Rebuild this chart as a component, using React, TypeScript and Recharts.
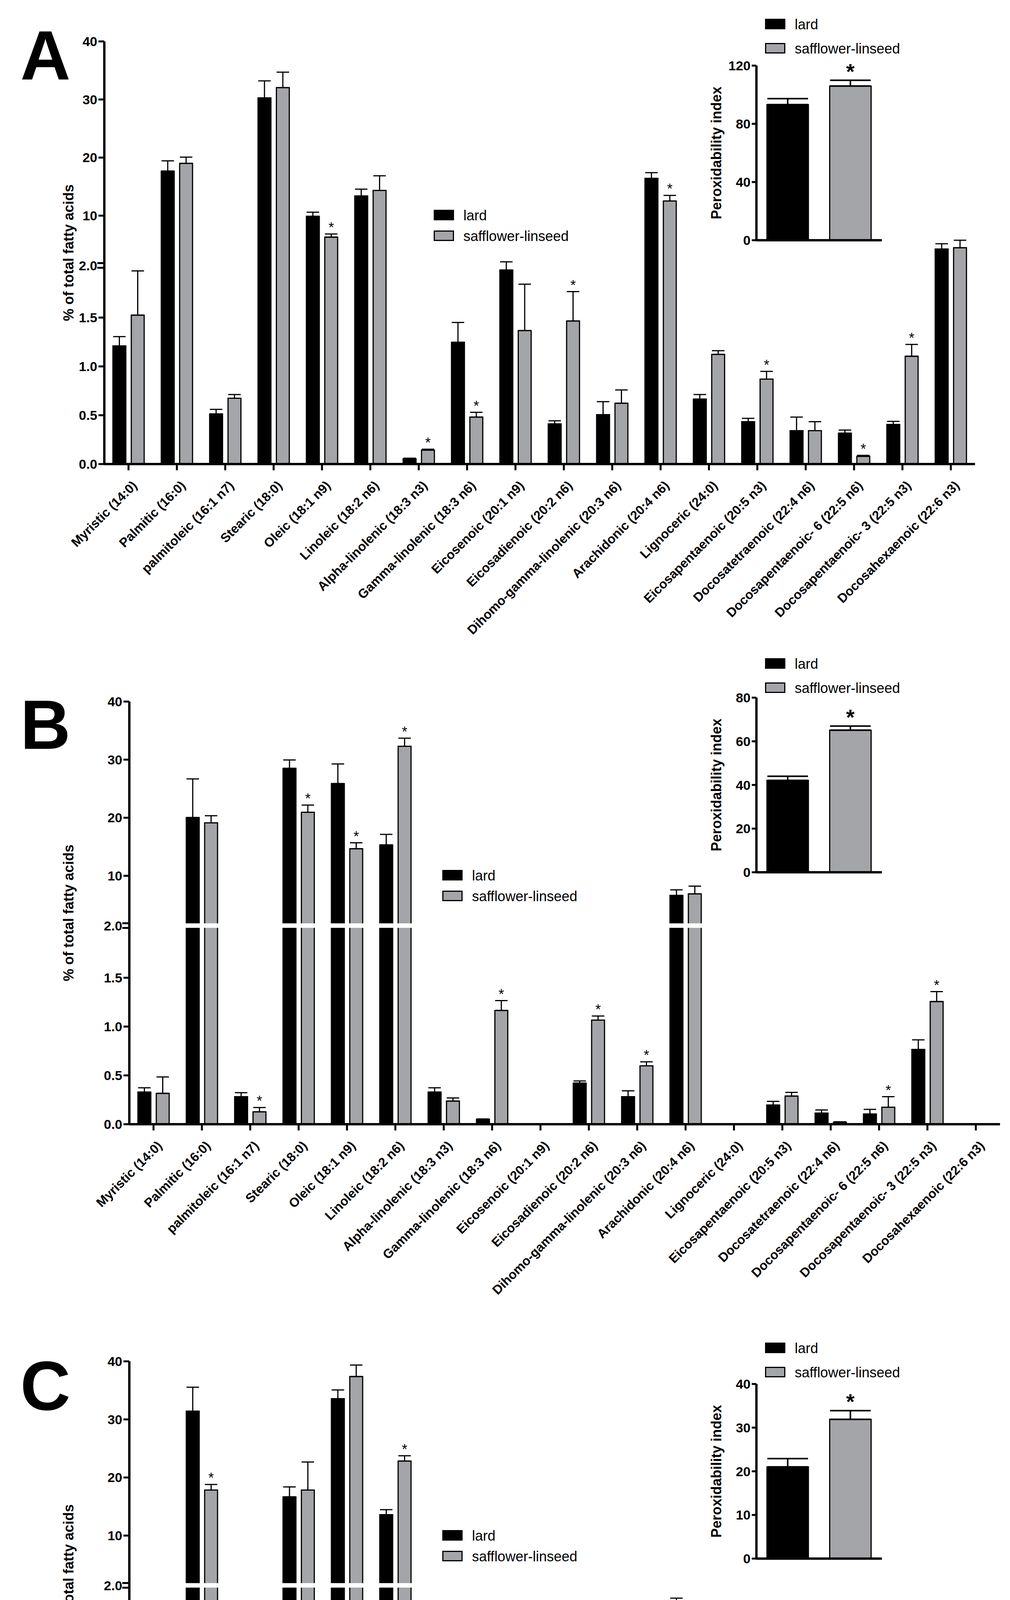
import React from "react";
import { BarChart, Bar, XAxis, YAxis, ErrorBar, LabelList, Legend, Cell } from "recharts";

const FONT = "'Liberation Sans', Arial, Helvetica, sans-serif";
const GREY = "#a4a5a8";

const acids = [
  "Myristic (14:0)",
  "Palmitic (16:0)",
  "palmitoleic (16:1 n7)",
  "Stearic (18:0)",
  "Oleic (18:1 n9)",
  "Linoleic (18:2 n6)",
  "Alpha-linolenic (18:3 n3)",
  "Gamma-linolenic (18:3 n6)",
  "Eicosenoic (20:1 n9)",
  "Eicosadienoic (20:2 n6)",
  "Dihomo-gamma-linolenic (20:3 n6)",
  "Arachidonic (20:4 n6)",
  "Lignoceric (24:0)",
  "Eicosapentaenoic (20:5 n3)",
  "Docosatetraenoic (22:4 n6)",
  "Docosapentaenoic- 6 (22:5 n6)",
  "Docosapentaenoic- 3 (22:5 n3)",
  "Docosahexaenoic (22:6 n3)",
];

// panel A
const lardA = [1.21, 17.67, 0.513, 30.27, 9.89, 13.38, 0.054, 1.247, 1.987, 0.411, 0.506, 16.43, 0.665, 0.434, 0.342, 0.316, 0.405, 4.26];
const lardSemA = [0.095, 1.77, 0.047, 2.93, 0.7, 1.18, 0.006, 0.203, 0.07, 0.032, 0.133, 0.97, 0.047, 0.034, 0.139, 0.032, 0.032, 0.91];
const saffA = [1.525, 19.0, 0.674, 32.04, 6.3, 14.34, 0.142, 0.481, 1.367, 1.465, 0.623, 12.52, 1.123, 0.87, 0.342, 0.079, 1.104, 4.48];
const saffSemA = [0.453, 1.08, 0.038, 2.66, 0.54, 2.52, 0.01, 0.049, 0.475, 0.301, 0.136, 0.97, 0.038, 0.079, 0.092, 0.01, 0.121, 1.28];
const starsA = [4, 6, 7, 9, 11, 13, 15, 16];

// panel B
const lardB = [0.329, 20.03, 0.282, 28.5, 25.87, 15.31, 0.329, 0.051, null, 0.421, 0.282, 6.62, null, 0.196, 0.114, 0.104, 0.766, null];
const lardSemB = [0.044, 6.65, 0.041, 1.45, 3.38, 1.82, 0.044, 0.003, 0, 0.022, 0.06, 0.97, 0, 0.038, 0.032, 0.048, 0.098, 0];
const saffB = [0.316, 19.12, 0.127, 20.94, 14.66, 32.3, 0.237, 1.165, null, 1.066, 0.598, 6.89, null, 0.288, 0.019, 0.174, 1.256, null];
const saffSemB = [0.168, 1.23, 0.044, 1.23, 1.02, 1.4, 0.032, 0.101, 0, 0.042, 0.041, 1.34, 0, 0.038, 0.006, 0.108, 0.102, 0];
const starsB = [2, 3, 4, 5, 7, 9, 10, 15, 16];

// panel C
const lardC = [0.861, 31.42, 0.268, 16.66, 33.56, 13.6, 0.436, 0.041, null, 0.281, 0.082, 1.703, null, 0.102, 0.009, 0.007, 0.069, null];
const lardSemC = [0.037, 4.13, 0.057, 1.71, 1.51, 0.86, 0.024, 0.003, 0, 0.011, 0.007, 0.2, 0, 0.044, 0.002, 0.005, 0.013, 0];
const saffC = [0.153, 17.84, 0.182, 17.84, 37.38, 22.83, 0.145, 0.821, 0.025, 0.125, 0.033, 1.341, null, 0.403, 0.013, 0.109, 0.053, null];
const saffSemC = [0.029, 0.96, 0.024, 4.83, 1.98, 0.91, 0.026, 0.411, 0.031, 0.05, 0.019, 0.098, 0, 0.04, 0.007, 0.086, 0.036, 0];
const starsC = [0, 1, 5, 7, 13];

// peroxidability index insets
const groups = ["lard", "safflower-linseed"];
const piA = [93.2, 106.0];
const piSemA = [4.1, 3.9];
const piTicksA = [0, 40, 80, 120];
const piB = [42.1, 65.1];
const piSemB = [1.9, 1.9];
const piTicksB = [0, 20, 40, 60, 80];
const piC = [21.0, 31.9];
const piSemC = [1.9, 2.0];
const piTicksC = [0, 10, 20, 30, 40];
const piStars = [1];

// broken y axis: 0-2 linear, then 2-40 compressed above a small gap
const GAP = 0.068;
const K = 0.05948;
const brk = (v: number) => (v <= 2 ? v : 2 + GAP + (v - 2) * K);
const Y_MAX = brk(40);
const BREAK_MID = 2 + GAP / 2;
const lowTicks = [0, 0.5, 1, 1.5];
const highTicks = [10, 20, 30, 40];
const yTicks = [...lowTicks, BREAK_MID, ...highTicks.map(brk)];
const yTickText = [...lowTicks.map((t) => t.toFixed(1)), "2.0", ...highTicks.map(String)];

const PLOT_H = 1082;
const BAND = 123.8;
const XAXIS_H = 460;

type Row = {
  name: string;
  lard: number | null;
  saff: number | null;
  lardErr: number[];
  saffErr: number[];
  saffStar: boolean;
};

const buildRows = (
  lard: (number | null)[],
  lardSem: number[],
  saff: (number | null)[],
  saffSem: number[],
  stars: number[],
): Row[] =>
  acids.map((name, i) => {
    const l = lard[i];
    const s = saff[i];
    return {
      name,
      lard: l == null ? null : brk(l),
      saff: s == null ? null : brk(s),
      lardErr: l == null ? [0, 0] : [0, brk(l + lardSem[i]) - brk(l)],
      saffErr: s == null ? [0, 0] : [0, brk(s + saffSem[i]) - brk(s)],
      saffStar: stars.includes(i),
    };
  });

const panels = [
  {
    letter: "A", letterY: 203, top: 0, plotTop: 106, plotLeft: 267, gap: false,
    legendLeft: 1111, legendTop: 538,
    rows: buildRows(lardA, lardSemA, saffA, saffSemA, starsA),
    pi: piA, piSem: piSemA, piTicks: piTicksA, insetPlotTop: 168, insetLegendTop: 49,
  },
  {
    letter: "B", letterY: 1917, top: 1650, plotTop: 1796, plotLeft: 331, gap: true,
    legendLeft: 1133, legendTop: 2228,
    rows: buildRows(lardB, lardSemB, saffB, saffSemB, starsB),
    pi: piB, piSem: piSemB, piTicks: piTicksB, insetPlotTop: 1786, insetLegendTop: 1686,
  },
  {
    letter: "C", letterY: 3609, top: 3300, plotTop: 3485, plotLeft: 331, gap: true,
    legendLeft: 1133, legendTop: 3918,
    rows: buildRows(lardC, lardSemC, saffC, saffSemC, starsC),
    pi: piC, piSem: piSemC, piTicks: piTicksC, insetPlotTop: 3543, insetLegendTop: 3438,
  },
];

// label value is "value|errorDelta" (display units) for starred bars, "" otherwise
const starLabel = (size: number, dy: number, bold: boolean) => (props: any) => {
  const raw = String(props.value ?? "");
  if (!raw) return null;
  const [v, e] = raw.split("|").map(Number);
  if (!v) return null;
  const vb = props.viewBox || props;
  const x = Number(vb.x ?? props.x);
  const y = Number(vb.y ?? props.y);
  const w = Number(vb.width ?? props.width);
  const h = Math.abs(Number(vb.height ?? props.height));
  const errTop = y - e * (h / v);
  return (
    <text x={x + w / 2} y={errTop + dy} textAnchor="middle" fontSize={size} fontWeight={bold ? 700 : 400} fontFamily={FONT} fill="#000">
      *
    </text>
  );
};

// bar with the white axis-break gap cut through it
const gapBar = (key: "lard" | "saff", withGap: boolean) => (p: any) => {
  const { x, y, width, height } = p;
  const v = p.payload ? p.payload[key] : null;
  if (v == null || !height) return <g />;
  const bottom = y + height;
  const ppu = height / v;
  return (
    <g>
      <rect x={x} y={y} width={width} height={height} fill={p.fill} stroke="#000" strokeWidth={3} />
      {withGap && v > BREAK_MID + 0.03 && (
        <rect x={x - 3} y={bottom - 2.057 * ppu} width={width + 6} height={0.046 * ppu} fill="#fff" />
      )}
    </g>
  );
};

const LegendBox = ({ gapY }: { gapY: number }) => (
  <svg width={480} height={gapY + 32} style={{ overflow: "visible" }}>
    {groups.map((g, i) => (
      <g key={g} transform={`translate(0, ${i * gapY})`}>
        <rect x={1.5} y={1.5} width={49} height={24} fill={i === 0 ? "#000" : GREY} stroke="#000" strokeWidth={3} />
        <text x={76} y={14} dominantBaseline="central" fontSize={36} fontFamily={FONT} fill="#000">
          {g}
        </text>
      </g>
    ))}
  </svg>
);

const FattyPanel = ({ cfg }: { cfg: (typeof panels)[number] }) => {
  const rows = cfg.rows;
  const mt = cfg.plotTop - cfg.top;
  const plotBottom = mt + PLOT_H;
  const right = 2585 - cfg.plotLeft - 18 * BAND;
  const axisX = cfg.plotLeft;

  const yTick = (p: any) => {
    const y = p.y;
    const idx = yTicks.findIndex((t) => Math.abs(t - p.payload.value) < 1e-6);
    const isBreak = Math.abs(p.payload.value - BREAK_MID) < 1e-6;
    return (
      <g>
        {isBreak ? (
          <>
            <line x1={axisX - 18} x2={axisX + 3} y1={y - 6} y2={y - 6} stroke="#000" strokeWidth={5} />
            <line x1={axisX - 18} x2={axisX + 3} y1={y + 6} y2={y + 6} stroke="#000" strokeWidth={5} />
          </>
        ) : (
          <line x1={axisX - 15} x2={axisX} y1={y} y2={y} stroke="#000" strokeWidth={5} />
        )}
        <text x={axisX - 18} y={y} textAnchor="end" dominantBaseline="central" fontSize={34} fontWeight={700} fontFamily={FONT} fill="#000">
          {yTickText[idx]}
        </text>
      </g>
    );
  };

  const xTick = (p: any) => (
    <g>
      <line x1={p.x} x2={p.x} y1={plotBottom} y2={plotBottom + 16} stroke="#000" strokeWidth={5} />
      <text
        transform={`translate(${p.x + 24}, ${plotBottom + 57}) rotate(-45)`}
        textAnchor="end"
        fontSize={33}
        fontWeight={700}
        fontFamily={FONT}
        fill="#000"
      >
        {p.payload.value}
      </text>
    </g>
  );

  const starKey = (r: Row) => (r.saffStar && r.saff != null ? `${r.saff}|${r.saffErr[1]}` : "");

  return (
    <div style={{ position: "absolute", left: 0, top: cfg.top }}>
      <BarChart
        width={2585}
        height={mt + PLOT_H + XAXIS_H}
        data={rows}
        margin={{ top: mt, right, bottom: 0, left: 0 }}
        barSize={33}
        barGap={14}
      >
        <XAxis
          dataKey="name"
          interval={0}
          height={XAXIS_H}
          axisLine={{ stroke: "#000", strokeWidth: 6 }}
          tickLine={false}
          tick={xTick}
        />
        <YAxis
          type="number"
          domain={[0, Y_MAX]}
          ticks={yTicks}
          interval={0}
          width={cfg.plotLeft}
          allowDataOverflow
          axisLine={{ stroke: "#000", strokeWidth: 6 }}
          tickLine={false}
          tick={yTick}
          label={{
            content: (lp: any) => {
              const vb = lp.viewBox || { y: mt, height: PLOT_H };
              return (
                <text
                  transform={`translate(175, ${vb.y + vb.height / 2}) rotate(-90)`}
                  textAnchor="middle"
                  dominantBaseline="central"
                  fontSize={36}
                  fontWeight={700}
                  fontFamily={FONT}
                  fill="#000"
                >
                  % of total fatty acids
                </text>
              );
            },
          }}
        />
        <Bar dataKey="lard" name="lard" fill="#000" stroke="#000" strokeWidth={3} shape={gapBar("lard", cfg.gap)} isAnimationActive={false}>
          <ErrorBar dataKey="lardErr" width={16} stroke="#000" strokeWidth={3} direction="y" />
        </Bar>
        <Bar dataKey="saff" name="safflower-linseed" fill={GREY} stroke="#000" strokeWidth={3} shape={gapBar("saff", cfg.gap)} isAnimationActive={false}>
          <ErrorBar dataKey="saffErr" width={16} stroke="#000" strokeWidth={3} direction="y" />
          <LabelList dataKey={starKey} content={starLabel(36, -4, false)} />
        </Bar>
        <Legend
          layout="vertical"
          align="center"
          verticalAlign="middle"
          wrapperStyle={{ left: cfg.legendLeft - 1.5, top: cfg.legendTop - cfg.top - 1.5, width: 480, height: 100 }}
          content={() => <LegendBox gapY={53} />}
        />
      </BarChart>
    </div>
  );
};

const PeroxInset = ({ cfg }: { cfg: (typeof panels)[number] }) => {
  const rows = groups.map((name, i) => ({ name, value: cfg.pi[i], err: [0, cfg.piSem[i]], star: piStars.includes(i) }));
  const wrapTop = cfg.insetLegendTop - 10;
  const mt = cfg.insetPlotTop - wrapTop;
  const axisX = 236;
  const maxTick = cfg.piTicks[cfg.piTicks.length - 1];

  const yTick = (p: any) => (
    <g>
      <line x1={axisX - 12} x2={axisX} y1={p.y} y2={p.y} stroke="#000" strokeWidth={5} />
      <text x={axisX - 15} y={p.y} textAnchor="end" dominantBaseline="central" fontSize={34} fontWeight={700} fontFamily={FONT} fill="#000">
        {p.payload.value}
      </text>
    </g>
  );

  return (
    <div style={{ position: "absolute", left: 1700, top: wrapTop }}>
      <BarChart width={600} height={mt + 447 + 2 + 10} data={rows} margin={{ top: mt, right: 43, bottom: 10, left: 0 }} barSize={106}>
        <XAxis dataKey="name" tick={false} tickLine={false} height={2} axisLine={{ stroke: "#000", strokeWidth: 6 }} />
        <YAxis
          type="number"
          domain={[0, maxTick]}
          ticks={cfg.piTicks}
          interval={0}
          width={axisX}
          axisLine={{ stroke: "#000", strokeWidth: 6 }}
          tickLine={false}
          tick={yTick}
          label={{
            content: (lp: any) => {
              const vb = lp.viewBox || { y: mt, height: 447 };
              return (
                <text
                  transform={`translate(${axisX - 103}, ${vb.y + vb.height / 2}) rotate(-90)`}
                  textAnchor="middle"
                  dominantBaseline="central"
                  fontSize={36}
                  fontWeight={700}
                  fontFamily={FONT}
                  fill="#000"
                >
                  Peroxidability index
                </text>
              );
            },
          }}
        />
        <Bar dataKey="value" stroke="#000" strokeWidth={3} isAnimationActive={false}>
          {rows.map((r, i) => (
            <Cell key={r.name} fill={i === 0 ? "#000" : GREY} />
          ))}
          <ErrorBar dataKey="err" width={52} stroke="#000" strokeWidth={4} direction="y" />
          <LabelList dataKey={(r: any) => (r.star ? `${r.value}|${r.err[1]}` : "")} content={starLabel(56, -4, true)} />
        </Bar>
        <Legend
          layout="vertical"
          align="center"
          verticalAlign="middle"
          wrapperStyle={{ left: 259 - 1.5, top: 10 - 1.5, width: 340, height: 100 }}
          content={() => <LegendBox gapY={62} />}
        />
      </BarChart>
    </div>
  );
};

export default function App() {
  return (
    <div style={{ position: "relative", width: 2585, height: 5022, background: "#fff", overflow: "hidden" }}>
      <style>{"body{margin:0}"}</style>
      {panels.map((cfg) => (
        <FattyPanel key={cfg.letter} cfg={cfg} />
      ))}
      {panels.map((cfg) => (
        <PeroxInset key={`pi-${cfg.letter}`} cfg={cfg} />
      ))}
      <svg width={2585} height={5022} style={{ position: "absolute", left: 0, top: 0, pointerEvents: "none" }}>
        {panels.map((cfg) => (
          <text key={cfg.letter} x={52} y={cfg.letterY} fontSize={178} fontWeight={700} fontFamily={FONT} fill="#000">
            {cfg.letter}
          </text>
        ))}
      </svg>
    </div>
  );
}
